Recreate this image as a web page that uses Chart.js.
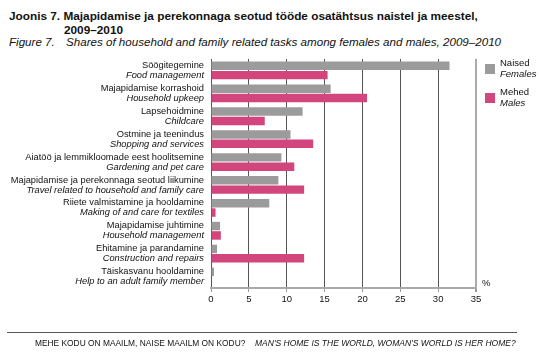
<!DOCTYPE html>
<html>
<head>
<meta charset="utf-8">
<script src="https://cdn.jsdelivr.net/npm/chart.js@4/dist/chart.umd.min.js"></script>
<style>
  html, body { margin: 0; padding: 0; background: #fff; }
  body { width: 539px; height: 361px; position: relative; overflow: hidden; font-family: "Liberation Sans", Arial, sans-serif; color: #111; }
  #wrap { position: absolute; left: 0; top: 0; width: 539px; height: 361px; }
  .t { position: absolute; white-space: nowrap; }
  .b { font-weight: bold; font-size: 11.8px; line-height: 14px; }
  .i { font-style: italic; font-size: 11.6px; line-height: 14px; }
  .f { font-size: 8.4px; line-height: 10px; }
</style>
</head>
<body>
<div class="t b" style="left:9px; top:9px;">Joonis 7.&nbsp;Majapidamise ja perekonnaga seotud tööde osatähtsus naistel ja meestel,</div>
<div class="t b" style="left:64px; top:23px;">2009–2010</div>
<div class="t i" style="left:9px; top:35px;">Figure 7.</div>
<div class="t i" style="left:66px; top:35px;">Shares of household and family related tasks among females and males, 2009–2010</div>
<div id="wrap"><canvas id="c" width="539" height="361"></canvas></div>
<div style="position:absolute; left:7px; top:332px; width:510px; height:1px; background:#555;"></div>
<div class="t f" style="left:35px; top:338px;">MEHE KODU ON MAAILM, NAISE MAAILM ON KODU?</div>
<div class="t f" style="left:255px; top:338px; font-style:italic; font-size:8.5px;">MAN'S HOME IS THE WORLD, WOMAN'S WORLD IS HER HOME?</div>
<script>
const categoriesEt = [
  "Söögitegemine",
  "Majapidamise korrashoid",
  "Lapsehoidmine",
  "Ostmine ja teenindus",
  "Aiatöö ja lemmikloomade eest hoolitsemine",
  "Majapidamise ja perekonnaga seotud liikumine",
  "Riiete valmistamine ja hooldamine",
  "Majapidamise juhtimine",
  "Ehitamine ja parandamine",
  "Täiskasvanu hooldamine"
];
const categoriesEn = [
  "Food management",
  "Household upkeep",
  "Childcare",
  "Shopping and services",
  "Gardening and pet care",
  "Travel related to household and family care",
  "Making of and care for textiles",
  "Household management",
  "Construction and repairs",
  "Help to an adult family member"
];
const females = [31.5, 15.8, 12.1, 10.5, 9.3, 8.9, 7.7, 1.2, 0.8, 0.4];
const males   = [15.4, 20.6, 7.1, 13.5, 11.0, 12.3, 0.6, 1.3, 12.3, 0.0];
const seriesEt = ["Naised", "Mehed"];
const seriesEn = ["Females", "Males"];
const xTicks = [0, 5, 10, 15, 20, 25, 30, 35];

const GRAY = "#9b9b9b";
const PINK = "#d2457d";
const FONT = '"Liberation Sans", Arial, sans-serif';

const labelPlugin = {
  id: "labels",
  afterDraw(chart) {
    const ctx = chart.ctx;
    const y = chart.scales.y;
    ctx.save();
    ctx.fillStyle = "#111";
    ctx.textAlign = "right";
    ctx.textBaseline = "middle";
    for (let i = 0; i < categoriesEt.length; i++) {
      const py = y.getPixelForValue(i);
      ctx.font = "9.3px " + FONT;
      ctx.fillText(categoriesEt[i], 204, py - 5);
      ctx.font = "italic 9.3px " + FONT;
      ctx.fillText(categoriesEn[i], 204, py + 5);
    }
    // legend
    const colors = [GRAY, PINK];
    const tops = [64, 93];
    ctx.textAlign = "left";
    for (let k = 0; k < 2; k++) {
      ctx.fillStyle = colors[k];
      ctx.fillRect(485, tops[k], 10, 10);
      ctx.fillStyle = "#111";
      ctx.font = "9.5px " + FONT;
      ctx.fillText(seriesEt[k], 500, tops[k] - 1);
      ctx.font = "italic 9.5px " + FONT;
      ctx.fillText(seriesEn[k], 500, tops[k] + 10);
    }
    ctx.font = "9.5px " + FONT;
    ctx.fillText("%", 482, 283);
    ctx.restore();
  }
};

new Chart(document.getElementById("c"), {
  type: "bar",
  data: {
    labels: categoriesEt,
    datasets: [
      { label: seriesEt[0], data: females, backgroundColor: GRAY, borderWidth: 0 },
      { label: seriesEt[1], data: males, backgroundColor: PINK, borderWidth: 0 }
    ]
  },
  options: {
    indexAxis: "y",
    responsive: false,
    animation: false,
    devicePixelRatio: 1,
    categoryPercentage: 0.82,
    barPercentage: 0.9,
    layout: { padding: { left: 0, right: 63, top: 59, bottom: 53 } },
    plugins: { legend: { display: false }, tooltip: { enabled: false } },
    scales: {
      x: {
        type: "linear",
        min: 0, max: 35,
        afterBuildTicks(scale) { scale.ticks = xTicks.map(v => ({ value: v })); },
        afterFit(scale) { scale.height = 20; },
        ticks: { color: "#111", font: { size: 9.5, family: FONT }, padding: 2 },
        grid: {
          color: (c) => (c.tick && c.tick.value === 35) ? "#aaaaaa" : "#555555",
          lineWidth: (c) => (c.tick && c.tick.value === 35) ? 2 : 1,
          tickColor: "#999",
          tickLength: 4,
          drawTicks: true
        },
        border: { display: true, color: "#aaaaaa", width: 2 }
      },
      y: {
        afterFit(scale) { scale.width = 211; },
        ticks: { display: false },
        grid: { display: false },
        border: { display: false }
      }
    }
  },
  plugins: [labelPlugin]
});
</script>
</body>
</html>
